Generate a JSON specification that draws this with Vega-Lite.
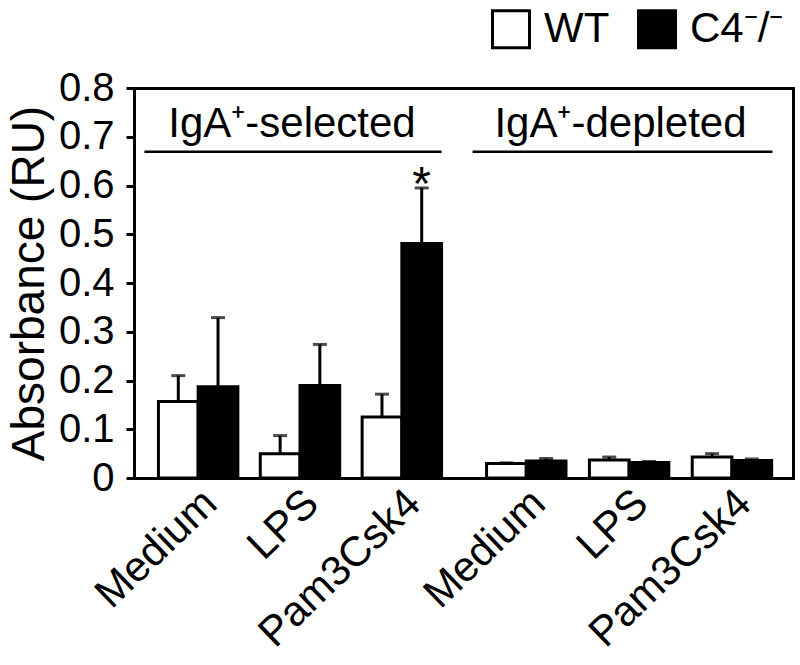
{
  "$schema": "https://vega.github.io/schema/vega-lite/v6.json",
  "padding": {"left": 6, "top": 8, "right": 5, "bottom": 5},
  "background": "white",
  "spacing": 0,
  "bounds": "flush",
  "config": {
    "font": "Liberation Sans",
    "view": {"stroke": null},
    "axis": {"grid": false, "domainColor": "black", "domainWidth": 3, "domainCap": "square", "labelColor": "black", "titleColor": "black", "labelFont": "Liberation Sans", "titleFont": "Liberation Sans", "labelLimit": 0},
    "legend": {"labelFont": "Liberation Sans"}
  },
  "datasets": {
    "sel": [
      {"stimulus": "Medium", "genotype": "WT", "value": 0.157, "err_top": 0.21},
      {"stimulus": "Medium", "genotype": "C4⁻/⁻", "value": 0.187, "err_top": 0.329},
      {"stimulus": "LPS", "genotype": "WT", "value": 0.05, "err_top": 0.087},
      {"stimulus": "LPS", "genotype": "C4⁻/⁻", "value": 0.19, "err_top": 0.274},
      {"stimulus": "Pam3Csk4", "genotype": "WT", "value": 0.125, "err_top": 0.172},
      {"stimulus": "Pam3Csk4", "genotype": "C4⁻/⁻", "value": 0.481, "err_top": 0.595}
    ],
    "dep": [
      {"stimulus": "Medium", "genotype": "WT", "value": 0.03, "err_top": 0.031},
      {"stimulus": "Medium", "genotype": "C4⁻/⁻", "value": 0.035, "err_top": 0.04},
      {"stimulus": "LPS", "genotype": "WT", "value": 0.037, "err_top": 0.043},
      {"stimulus": "LPS", "genotype": "C4⁻/⁻", "value": 0.032, "err_top": 0.034},
      {"stimulus": "Pam3Csk4", "genotype": "WT", "value": 0.043, "err_top": 0.05},
      {"stimulus": "Pam3Csk4", "genotype": "C4⁻/⁻", "value": 0.036, "err_top": 0.039}
    ]
  },
  "resolve": {"scale": {"x": "independent", "y": "independent"}, "axis": {"x": "independent", "y": "independent"}},
  "hconcat": [
    {
      "width": 332,
      "height": 390,
      "layer": [
        {
          "data": {"name": "sel"},
          "mark": {"type": "bar", "stroke": "black", "strokeWidth": 3},
          "encoding": {
            "x": {"field": "stimulus", "type": "nominal", "scale": {"domain": ["Medium", "LPS", "Pam3Csk4"], "paddingInner": 0.22, "paddingOuter": 0.24}, "axis": {"orient": "bottom", "title": null, "ticks": false, "labelAngle": -44, "labelFontSize": 42, "labelPadding": 4, "labelOffset": -2}},
            "xOffset": {"field": "genotype", "type": "nominal", "scale": {"domain": ["WT", "C4⁻/⁻"], "paddingInner": 0, "paddingOuter": 0}},
            "y": {"field": "value", "type": "quantitative", "scale": {"domain": [0, 0.8]}, "axis": {"orient": "left", "title": "Absorbance (RU)", "titleFontSize": 46, "titleFontWeight": "normal", "titlePadding": 5, "values": [0, 0.1, 0.2, 0.3, 0.4, 0.5, 0.6, 0.7, 0.8], "labelExpr": "datum.value == 0 ? '0' : format(datum.value, '.1f')", "labelFontSize": 40, "labelFlush": false, "labelOverlap": false, "tickSize": 8, "tickWidth": 3, "tickColor": "black", "labelPadding": 12}},
            "fill": {"field": "genotype", "type": "nominal", "scale": {"domain": ["WT", "C4⁻/⁻"], "range": ["white", "black"]}, "legend": {"title": null, "orient": "none", "legendX": 356, "legendY": -80, "direction": "horizontal", "symbolType": "square", "symbolSize": 1369, "symbolStrokeColor": "black", "symbolStrokeWidth": 3, "labelFontSize": 42, "labelOffset": 12, "columnPadding": 22}}
          }
        },
        {
          "data": {"name": "sel"},
          "mark": {"type": "rule", "strokeWidth": 3, "color": "black"},
          "encoding": {
            "x": {"field": "stimulus", "type": "nominal", "scale": {"domain": ["Medium", "LPS", "Pam3Csk4"]}, "axis": {"orient": "top", "title": null, "labels": false, "ticks": false, "domain": true}},
            "xOffset": {"field": "genotype", "type": "nominal", "scale": {"domain": ["WT", "C4⁻/⁻"]}},
            "y": {"field": "value", "type": "quantitative"},
            "y2": {"field": "err_top"}
          }
        },
        {
          "data": {"name": "sel"},
          "mark": {"type": "tick", "orient": "horizontal", "size": 14, "thickness": 3, "color": "black"},
          "encoding": {
            "x": {"field": "stimulus", "type": "nominal", "scale": {"domain": ["Medium", "LPS", "Pam3Csk4"]}, "axis": null},
            "xOffset": {"field": "genotype", "type": "nominal", "scale": {"domain": ["WT", "C4⁻/⁻"]}},
            "y": {"field": "err_top", "type": "quantitative"}
          }
        },
        {
          "data": {"values": [{"label": "IgA⁺-selected", "y": 0.7}]},
          "mark": {"type": "text", "fontSize": 42, "baseline": "alphabetic", "align": "center", "dx": -8, "color": "black"},
          "encoding": {
            "y": {"field": "y", "type": "quantitative"},
            "text": {"field": "label"}
          }
        },
        {
          "data": {"values": [{"from": "Medium", "to": "Pam3Csk4", "y": 0.669}]},
          "mark": {"type": "rule", "strokeWidth": 2.5, "color": "black", "xOffset": -14},
          "encoding": {
            "x": {"field": "from", "type": "nominal", "bandPosition": 0, "scale": {"domain": ["Medium", "LPS", "Pam3Csk4"]}, "axis": null},
            "x2": {"field": "to", "bandPosition": 1},
            "y": {"field": "y", "type": "quantitative"}
          }
        },
        {
          "data": {"values": [{"stimulus": "Pam3Csk4", "genotype": "C4⁻/⁻", "y": 0.571, "label": "*"}]},
          "mark": {"type": "text", "fontSize": 48, "baseline": "alphabetic", "align": "center", "color": "black"},
          "encoding": {
            "x": {"field": "stimulus", "type": "nominal", "scale": {"domain": ["Medium", "LPS", "Pam3Csk4"]}, "axis": null},
            "xOffset": {"field": "genotype", "type": "nominal", "scale": {"domain": ["WT", "C4⁻/⁻"]}},
            "y": {"field": "y", "type": "quantitative"},
            "text": {"field": "label"}
          }
        }
      ]
    },
    {
      "width": 327,
      "height": 390,
      "layer": [
        {
          "data": {"name": "dep"},
          "mark": {"type": "bar", "stroke": "black", "strokeWidth": 3},
          "encoding": {
            "x": {"field": "stimulus", "type": "nominal", "scale": {"domain": ["Medium", "LPS", "Pam3Csk4"], "paddingInner": 0.22, "paddingOuter": 0.2}, "axis": {"orient": "bottom", "title": null, "ticks": false, "labelAngle": -44, "labelFontSize": 42, "labelPadding": 4, "labelOffset": -2}},
            "xOffset": {"field": "genotype", "type": "nominal", "scale": {"domain": ["WT", "C4⁻/⁻"], "paddingInner": 0, "paddingOuter": 0}},
            "y": {"field": "value", "type": "quantitative", "scale": {"domain": [0, 0.8]}, "axis": {"orient": "right", "title": null, "labels": false, "ticks": false, "domain": true}},
            "fill": {"field": "genotype", "type": "nominal", "scale": {"domain": ["WT", "C4⁻/⁻"], "range": ["white", "black"]}, "legend": {"title": null, "orient": "none", "legendX": 356, "legendY": -80, "direction": "horizontal", "symbolType": "square", "symbolSize": 1369, "symbolStrokeColor": "black", "symbolStrokeWidth": 3, "labelFontSize": 42, "labelOffset": 12, "columnPadding": 22}}
          }
        },
        {
          "data": {"name": "dep"},
          "mark": {"type": "rule", "strokeWidth": 3, "color": "black"},
          "encoding": {
            "x": {"field": "stimulus", "type": "nominal", "scale": {"domain": ["Medium", "LPS", "Pam3Csk4"]}, "axis": {"orient": "top", "title": null, "labels": false, "ticks": false, "domain": true}},
            "xOffset": {"field": "genotype", "type": "nominal", "scale": {"domain": ["WT", "C4⁻/⁻"]}},
            "y": {"field": "value", "type": "quantitative"},
            "y2": {"field": "err_top"}
          }
        },
        {
          "data": {"name": "dep"},
          "mark": {"type": "tick", "orient": "horizontal", "size": 14, "thickness": 3, "color": "black"},
          "encoding": {
            "x": {"field": "stimulus", "type": "nominal", "scale": {"domain": ["Medium", "LPS", "Pam3Csk4"]}, "axis": null},
            "xOffset": {"field": "genotype", "type": "nominal", "scale": {"domain": ["WT", "C4⁻/⁻"]}},
            "y": {"field": "err_top", "type": "quantitative"}
          }
        },
        {
          "data": {"values": [{"label": "IgA⁺-depleted", "y": 0.7}]},
          "mark": {"type": "text", "fontSize": 42, "baseline": "alphabetic", "align": "center", "dx": -9, "color": "black"},
          "encoding": {
            "y": {"field": "y", "type": "quantitative"},
            "text": {"field": "label"}
          }
        },
        {
          "data": {"values": [{"from": "Medium", "to": "Pam3Csk4", "y": 0.669}]},
          "mark": {"type": "rule", "strokeWidth": 2.5, "color": "black", "xOffset": -14},
          "encoding": {
            "x": {"field": "from", "type": "nominal", "bandPosition": 0, "scale": {"domain": ["Medium", "LPS", "Pam3Csk4"]}, "axis": null},
            "x2": {"field": "to", "bandPosition": 1},
            "y": {"field": "y", "type": "quantitative"}
          }
        }
      ]
    }
  ]
}
